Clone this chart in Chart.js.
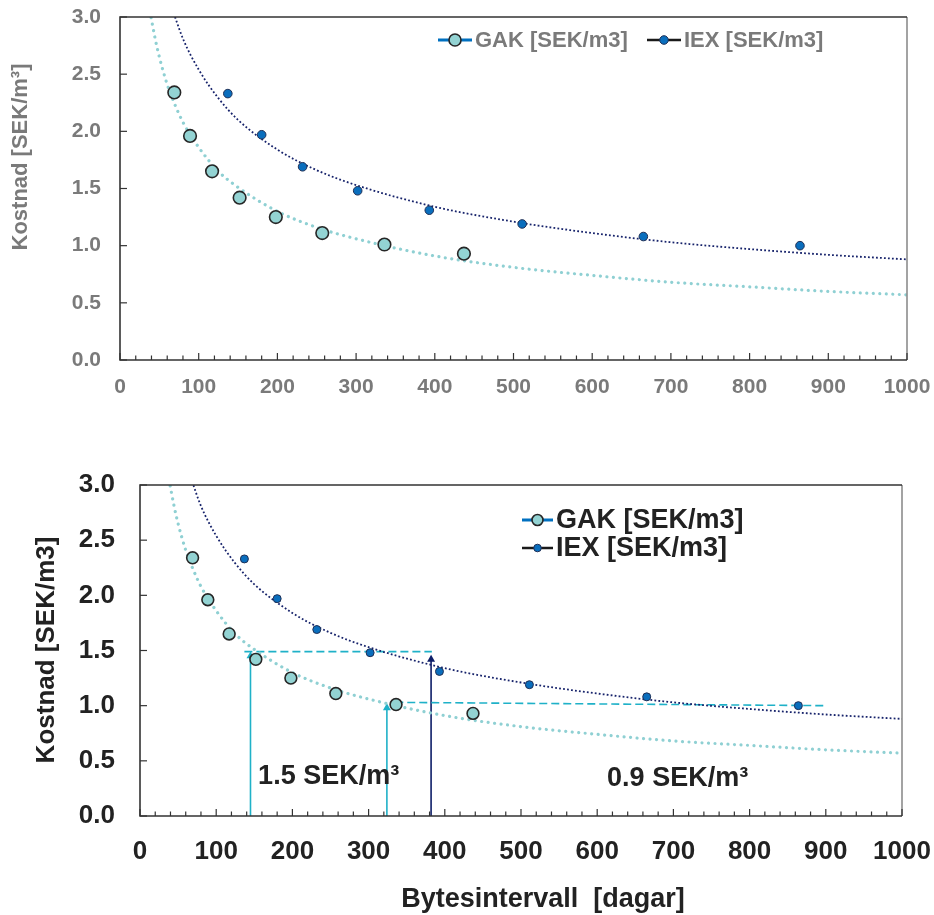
<!DOCTYPE html>
<html>
<head>
<meta charset="utf-8">
<script src="https://cdn.jsdelivr.net/npm/chart.js@4.4.1/dist/chart.umd.min.js"></script>
<style>
body{margin:0;background:#fff;width:934px;height:915px;overflow:hidden}
#top{position:absolute;left:0;top:0;width:934px;height:440px}
#bot{position:absolute;left:0;top:440px;width:934px;height:475px}
</style>
</head>
<body>
<div id="top"><canvas id="c1"></canvas></div>
<div id="bot"><canvas id="c2"></canvas></div>
<script>
// measured points
const gakX=[69,89,117,152,198,257,336,437];
const gakY=[2.34,1.96,1.65,1.42,1.25,1.11,1.01,0.93];
const iexX=[137,180,232,302,393,511,665,864];
const iexY=[2.33,1.97,1.69,1.48,1.31,1.19,1.08,1.00];
// trend curves
const gakTrendX=[38,45,50,60,70,80,100,125,150,200,250,300,400,500,600,700,800,900,1000];
const gakTrendY=[3.05,2.80,2.65,2.41,2.23,2.08,1.86,1.65,1.51,1.30,1.16,1.06,0.91,0.81,0.74,0.68,0.64,0.60,0.57];
const iexTrendX=[65,80,100,125,150,200,250,300,400,500,600,700,800,900,1000];
const iexTrendY=[3.10,2.81,2.54,2.29,2.10,1.84,1.66,1.53,1.34,1.21,1.11,1.03,0.97,0.92,0.88];
const seriesNames=['GAK [SEK/m3]','IEX [SEK/m3]'];
// guide lines / arrows in the lower chart
const guide1X=[137,383], guide1Y=[1.49,1.49];
const guide2X=[335,897], guide2Y=[1.03,1.00];
const arrowX=[145,324,382], arrowTop=[1.45,0.98,1.42];
const noteText=['1.5 SEK/m³','0.9 SEK/m³'], noteX=[155,613], noteY=[0.36,0.335];

const pts=(xs,ys)=>xs.map((v,i)=>({x:v,y:ys[i]}));
const FONT="'Liberation Sans', Arial, sans-serif";
const GAK_FILL='#93d3d3', IEX_FILL='#0a6ebd', GAK_DOT='#8fd0d3', IEX_DOT='#17236b', GUIDE='#1fb1c8', NAVY='#0e1e68';

function baseDatasets(big){
  return [
    {label:seriesNames[0],data:pts(gakX,gakY),backgroundColor:GAK_FILL,borderColor:'#262626',pointBorderWidth:1.6,pointRadius:big?6.3:5.9,pointHoverRadius:6},
    {label:seriesNames[1],data:pts(iexX,iexY),backgroundColor:IEX_FILL,borderColor:'#1f2f55',pointBorderWidth:1,pointRadius:big?4.3:4,pointHoverRadius:4},
    {data:pts(gakTrendX,gakTrendY),showLine:true,pointRadius:0,borderColor:GAK_DOT,borderWidth:3.2,borderDash:[0.01,6.5],borderCapStyle:'round',cubicInterpolationMode:'monotone'},
    {data:pts(iexTrendX,iexTrendY),showLine:true,pointRadius:0,borderColor:IEX_DOT,borderWidth:1.8,borderDash:[1.8,2.2],cubicInterpolationMode:'monotone'}
  ];
}

function scalesFor(o){
  return {
    x:{type:'linear',min:0,max:1000,
       grid:{display:false,drawTicks:false},border:{display:false},
       ticks:{stepSize:20,autoSkip:false,maxRotation:0,padding:o.xPad,color:o.color,font:{family:FONT,size:o.tick,weight:'bold'},
              callback:v=>v%100===0?String(v):''},
       afterFit:s=>{s.height=o.xH;s.paddingLeft=0;s.paddingRight=0;}},
    y:{min:0,max:3,
       grid:{display:false,drawTicks:false},border:{display:false},
       ticks:{stepSize:0.5,padding:o.yPad,color:o.color,font:{family:FONT,size:o.tick,weight:'bold'},callback:v=>v.toFixed(1)},
       afterFit:s=>{s.width=o.yW;s.paddingTop=0;s.paddingBottom=0;}}
  };
}

const deco={
  id:'deco',
  afterDraw(chart,args,o){
    const {ctx,chartArea:a,scales:{x,y}}=chart;
    const ln=(x1,y1,x2,y2)=>{ctx.beginPath();ctx.moveTo(x1,y1);ctx.lineTo(x2,y2);ctx.stroke();};
    ctx.save();
    ctx.lineWidth=1.6;
    ctx.strokeStyle='#8c8c8c'; ln(a.right,a.top,a.right,a.bottom);
    ctx.strokeStyle='#333';
    ctx.beginPath();ctx.moveTo(a.right,a.top);ctx.lineTo(a.left,a.top);ctx.lineTo(a.left,a.bottom);ctx.lineTo(a.right,a.bottom);ctx.stroke();
    ctx.lineWidth=1.2;
    x.ticks.forEach(t=>{const px=x.getPixelForValue(t.value);ln(px,a.bottom,px,a.bottom-(t.value%100===0?7:4.5));});
    y.ticks.forEach(t=>{const py=y.getPixelForValue(t.value);ln(a.left,py,a.left+7,py);});
    // titles
    ctx.fillStyle=o.color;ctx.textAlign='center';ctx.textBaseline='middle';
    (o.titles||[]).forEach(t=>{
      ctx.save();ctx.translate(t.x,t.y);if(t.rot)ctx.rotate(-Math.PI/2);
      ctx.font='bold '+t.size+'px '+FONT;ctx.fillText(t.text,0,0);ctx.restore();
    });
    // notes
    (o.notes||[]).forEach((t,i)=>{
      ctx.font='bold '+o.noteSize+'px '+FONT;ctx.textAlign='left';ctx.fillStyle='#222';
      ctx.fillText(t,x.getPixelForValue(noteX[i]),y.getPixelForValue(noteY[i]));
    });
    // legend
    const L=o.legend, ds=chart.data.datasets;
    L.rows.forEach((r,i)=>{
      const d=ds[i];
      ctx.strokeStyle=L.lineColors[i];ctx.lineWidth=i===0?3:2.5;
      ln(r.x,r.y,r.x+L.lineLen,r.y);
      ctx.beginPath();ctx.arc(r.x+L.lineLen/2,r.y,L.rad[i],0,Math.PI*2);
      ctx.fillStyle=d.backgroundColor;ctx.fill();ctx.lineWidth=i===0?1.6:1;ctx.strokeStyle=d.borderColor;ctx.stroke();
      ctx.fillStyle=o.color;ctx.font='bold '+L.size+'px '+FONT;ctx.textAlign='left';ctx.textBaseline='middle';
      ctx.fillText(d.label,r.x+L.lineLen+3,r.y+1);
    });
    ctx.restore();
  }
};

const GREY='#7a7a7a', DARK='#222';

new Chart(document.getElementById('c1'),{
  type:'scatter',
  data:{datasets:baseDatasets(true)},
  options:{responsive:true,maintainAspectRatio:false,animation:false,
    layout:{padding:{top:17,right:27,left:0,bottom:0}},
    plugins:{legend:{display:false},tooltip:{enabled:false},
      deco:{color:GREY,
        titles:[{text:'Kostnad [SEK/m³]',x:21,y:157,size:22,rot:true}],
        legend:{size:22,lineLen:34,lineColors:['#0070c0','#1a1a1a'],rad:[6,4.3],rows:[{x:438,y:40},{x:647,y:40}]}}},
    scales:scalesFor({color:GREY,tick:21,xPad:15,yPad:19,xH:80,yW:120})
  },
  plugins:[deco]
});

const lower=baseDatasets(false).concat([
  {data:pts(guide1X,guide1Y),showLine:true,pointRadius:0,borderColor:GUIDE,borderWidth:1.6,borderDash:[8,4]},
  {data:pts(guide2X,guide2Y),showLine:true,pointRadius:0,borderColor:GUIDE,borderWidth:1.6,borderDash:[8,4]}
], arrowX.map((v,i)=>({
  data:[{x:v,y:0},{x:v,y:arrowTop[i]}],showLine:true,borderColor:i===2?NAVY:GUIDE,borderWidth:1.6,
  pointStyle:'triangle',pointRadius:[0,4.6],backgroundColor:i===2?NAVY:GUIDE,pointBorderWidth:0
})));

new Chart(document.getElementById('c2'),{
  type:'scatter',
  data:{datasets:lower},
  options:{responsive:true,maintainAspectRatio:false,animation:false,
    layout:{padding:{top:45,right:32,left:0,bottom:0}},
    plugins:{legend:{display:false},tooltip:{enabled:false},
      deco:{color:DARK,noteSize:27,notes:noteText,
        titles:[{text:'Kostnad [SEK/m3]',x:47,y:210,size:26,rot:true},{text:'Bytesintervall  [dagar]',x:543,y:460,size:27}],
        legend:{size:27,lineLen:31,lineColors:['#0070c0','#1a1a1a'],rad:[5.5,3.8],rows:[{x:522,y:80},{x:522,y:108}]}}},
    scales:scalesFor({color:DARK,tick:26,xPad:20,yPad:25,xH:99,yW:140})
  },
  plugins:[deco]
});
</script>
</body>
</html>
